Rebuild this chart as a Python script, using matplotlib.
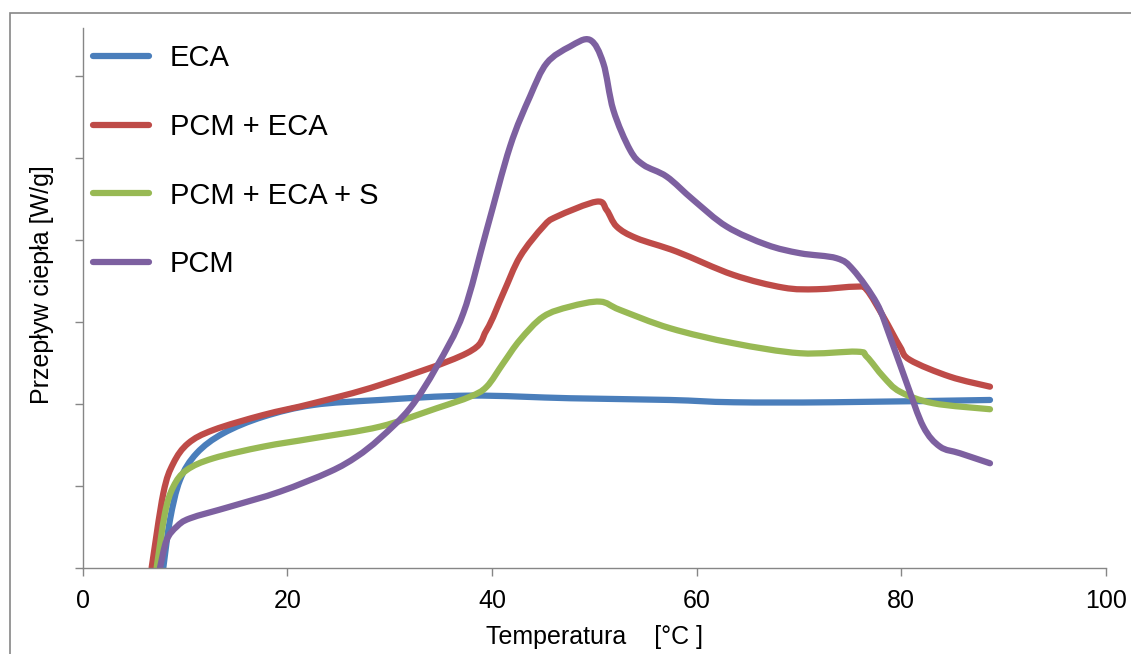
import matplotlib
matplotlib.use("Agg")
import matplotlib.pyplot as plt
from matplotlib.patches import Rectangle, PathPatch
from matplotlib.path import Path
from matplotlib.lines import Line2D

plt.rcParams['font.family'] = ['Liberation Sans', 'DejaVu Sans']

# ---- data ----
eca_x = [7.88, 8.53, 9.51, 11.14, 13.74, 17.65, 22.54, 29.06, 37.86, 47.63, 57.41, 63.60, 73.37, 88.69]
eca_y = [0.0, 0.582, 1.070, 1.395, 1.639, 1.841, 1.984, 2.045, 2.098, 2.066, 2.045, 2.017, 2.017, 2.045]

pcm_eca_x = [6.74, 7.88, 8.86, 10.32, 12.77, 17.65, 22.54, 29.06, 37.54, 39.49, 41.11, 42.75, 45.02,
             46.33, 50.24, 51.22, 52.20, 54.15, 58.06, 63.60, 68.48, 71.75, 75.66, 76.64, 78.26,
             79.89, 80.87, 84.78, 88.69]
pcm_eca_y = [0.0, 0.907, 1.273, 1.517, 1.679, 1.862, 2.005, 2.228, 2.615, 2.899, 3.346, 3.793, 4.159,
             4.280, 4.463, 4.360, 4.159, 4.017, 3.854, 3.570, 3.415, 3.395, 3.427, 3.387, 3.061,
             2.695, 2.533, 2.329, 2.207]

pcm_eca_s_x = [7.23, 8.04, 8.86, 10.17, 12.77, 17.65, 22.54, 29.06, 34.60, 37.86, 39.49, 41.11, 42.75,
               45.02, 47.63, 50.57, 52.52, 57.41, 63.60, 70.12, 75.66, 76.64, 78.26, 79.89, 83.15, 88.69]
pcm_eca_s_y = [0.0, 0.663, 0.988, 1.191, 1.334, 1.476, 1.578, 1.720, 1.944, 2.085, 2.207, 2.493, 2.777,
               3.061, 3.183, 3.244, 3.143, 2.920, 2.737, 2.615, 2.634, 2.573, 2.329, 2.146, 2.005, 1.932]

pcm_x = [7.56, 8.21, 9.19, 10.49, 14.40, 19.28, 24.17, 26.78, 29.06, 31.99, 34.60, 37.20, 39.49, 41.77,
         43.72, 45.36, 47.63, 49.59, 50.89, 51.87, 53.50, 54.80, 57.09, 59.69, 62.95, 66.86, 70.12,
         73.70, 75.33, 77.62, 78.91, 80.55, 82.17, 83.80, 85.76, 88.69]
pcm_y = [0.0, 0.338, 0.500, 0.602, 0.744, 0.927, 1.171, 1.354, 1.578, 1.944, 2.451, 3.102, 4.118, 5.134,
         5.744, 6.151, 6.354, 6.435, 6.151, 5.580, 5.094, 4.912, 4.768, 4.484, 4.159, 3.937, 3.834,
         3.773, 3.630, 3.224, 2.817, 2.249, 1.720, 1.476, 1.395, 1.273]

labels = ['ECA', 'PCM + ECA', 'PCM + ECA + S', 'PCM']
colors = ['#4A7EBB', '#BE4B48', '#98B954', '#7D60A0']
x_ticks = [0, 20, 40, 60, 80, 100]
y_ticks = [0, 1, 2, 3, 4, 5, 6]


def smooth_path(xs, ys, tension=1.0 / 6.0):
    """Smoothed (Catmull-Rom style) Bezier path through the given points, like Excel's smoothed lines."""
    pts = list(zip(xs, ys))
    verts = [pts[0]]
    codes = [Path.MOVETO]
    n = len(pts)
    for i in range(n - 1):
        p0 = pts[i - 1] if i > 0 else pts[i]
        p1 = pts[i]
        p2 = pts[i + 1]
        p3 = pts[i + 2] if i + 2 < n else pts[i + 1]
        c1 = (p1[0] + (p2[0] - p0[0]) * tension, p1[1] + (p2[1] - p0[1]) * tension)
        c2 = (p2[0] - (p3[0] - p1[0]) * tension, p2[1] - (p3[1] - p1[1]) * tension)
        verts += [c1, c2, p2]
        codes += [Path.CURVE4] * 3
    return Path(verts, codes)


# ---- figure ----
W, H = 1131, 654
fig = plt.figure(figsize=(W / 100, H / 100), dpi=100)
ax = fig.add_axes([82.7 / W, 1 - 567.7 / H, (1105.7 - 82.7) / W, (567.7 - 28) / H])

series = [(eca_x, eca_y), (pcm_eca_x, pcm_eca_y), (pcm_eca_s_x, pcm_eca_s_y), (pcm_x, pcm_y)]
handles = []
for (xs, ys), lab, c in zip(series, labels, colors):
    patch = PathPatch(smooth_path(xs, ys), facecolor='none', edgecolor=c, lw=4.5,
                      capstyle='round', joinstyle='round', transform=ax.transData)
    ax.add_patch(patch)
    handles.append(Line2D([], [], color=c, lw=4.5, solid_capstyle='round', label=lab))

ax.set_xlim(0, 100)
ax.set_ylim(0, 6.58)
ax.set_xticks(x_ticks)
ax.set_xticklabels([str(t) for t in x_ticks])
ax.set_yticks(y_ticks)
ax.set_yticklabels([])
ax.tick_params(axis='both', direction='out', length=6, width=1, color='#868686', labelsize=18, pad=9)
for s in ['top', 'right']:
    ax.spines[s].set_visible(False)
for s in ['left', 'bottom']:
    ax.spines[s].set_color('#868686')
    ax.spines[s].set_linewidth(1.0)

leg = ax.legend(handles=handles, loc='upper left', bbox_to_anchor=(93 / W, 1 - 44 / H),
                bbox_transform=fig.transFigure,
                frameon=False, fontsize=21, handlelength=1.92, handletextpad=0.72,
                labelspacing=1.40, borderpad=0, borderaxespad=0)

fig.text(594 / W, 1 - 637 / H, 'Temperatura    [°C ]', ha='center', va='center', fontsize=18)
fig.text(42 / W, 1 - 285 / H, 'Przepływ ciepła [W/g]', ha='center', va='center', rotation=90, fontsize=18)

fig.patches.append(Rectangle((10 / W, -0.1), 1.2, 1.1 - 13 / H, transform=fig.transFigure,
                             fill=False, edgecolor='#868686', lw=1.2))

fig.savefig('out.png', dpi=100)
